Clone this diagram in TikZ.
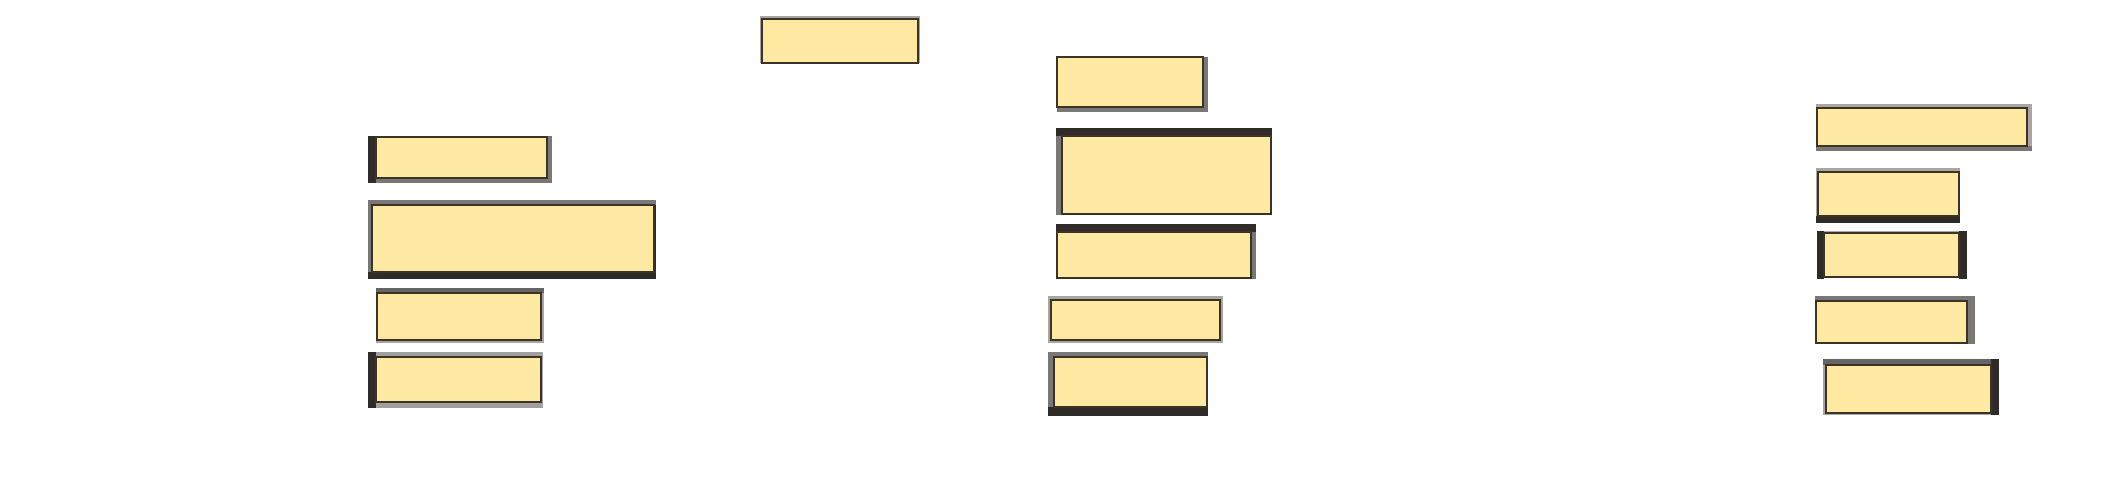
\documentclass[tikz,border=0pt]{standalone}
\usetikzlibrary{fit}
\definecolor{boxfill}{HTML}{FEE9A2}
\definecolor{boxline}{HTML}{3A3326}
\definecolor{bdark}{HTML}{2E2B28}
\definecolor{bmid}{HTML}{7A7876}
\definecolor{bmidd}{HTML}{666462}
\definecolor{blight}{HTML}{A9A6A3}
\tikzset{
  ybox/.style={draw=boxline, fill=boxfill, line width=1.3pt, inner sep=0pt, outer sep=0pt, rectangle},
}
\newcommand\ibox[5]{%
  \coordinate (#1-a) at (#2,#3);
  \coordinate (#1-b) at (#4,#5);
  \node[ybox, fit=(#1-a)(#1-b)] (#1) {};
}
\begin{document}
\begin{tikzpicture}[x=1pt,y=-1pt]
\useasboundingbox[fill=white] (0,0) rectangle (2118,488);
% B1
\fill[blight] (760,16) rectangle (920,19);
\fill[blight] (760,16) rectangle (762,63);
\fill[blight] (918,16) rectangle (920,63);
\ibox{b1}{762}{19}{918}{63}
% B2
\fill[bmid] (1203,57) rectangle (1208,112);
\fill[bmid] (1057,107) rectangle (1208,112);
\ibox{b2}{1057}{57}{1203}{107}
% B3
\fill[bmid] (547,136) rectangle (552,183);
\fill[bmid] (376,178) rectangle (552,183);
\fill[bdark] (368,136) rectangle (376,183);
\ibox{b3}{376}{137}{547}{178}
% B4
\fill[bmid] (368,200) rectangle (656,205);
\fill[bmid] (368,200) rectangle (372,279);
\fill[bdark] (368,272) rectangle (656,279);
\fill[bdark] (654,205) rectangle (656,279);
\ibox{b4}{372}{205}{654}{272}
% B5
\fill[blight] (541,288) rectangle (544,343);
\fill[blight] (376,340) rectangle (544,343);
\fill[blight] (376,293) rectangle (377,343);
\fill[bmidd] (376,288) rectangle (544,293);
\ibox{b5}{377}{293}{541}{340}
% B6
\fill[blight] (541,352) rectangle (543,408);
\fill[bmid!70!white] (376,352) rectangle (542,357);
\fill[bmid!70!white] (376,402) rectangle (542,408);
\fill[bdark] (368,352) rectangle (376,408);
\ibox{b6}{376}{357}{541}{402}
% B7
\fill[bmid] (1056,136) rectangle (1062,215);
\fill[bdark] (1056,128) rectangle (1272,136);
\ibox{b7}{1062}{136}{1271}{214}
% B8
\fill[bmid] (1251,224) rectangle (1256,279);
\fill[bdark] (1056,224) rectangle (1256,232);
\ibox{b8}{1057}{232}{1251}{278}
% B9
\fill[blight] (1048,296) rectangle (1223,343);
\ibox{b9}{1051}{300}{1220}{340}
% B10
\fill[bmid] (1048,352) rectangle (1208,357);
\fill[bmid] (1048,352) rectangle (1054,416);
\fill[bdark] (1048,407) rectangle (1208,416);
\ibox{b10}{1054}{357}{1207}{407}
% B11
\fill[blight] (1816,104) rectangle (2032,108);
\fill[blight] (2027,104) rectangle (2032,151);
\fill[bmid] (1816,146) rectangle (2032,151);
\ibox{b11}{1817}{108}{2027}{146}
% B12
\fill[blight] (1816,168) rectangle (1960,172);
\fill[blight] (1816,168) rectangle (1818,223);
\fill[bdark] (1816,216) rectangle (1960,223);
\ibox{b12}{1818}{172}{1959}{216}
% B13
\fill[blight] (1817,231) rectangle (1967,233);
\fill[bdark] (1817,231) rectangle (1824,279);
\fill[bdark] (1959,231) rectangle (1967,279);
\ibox{b13}{1824}{233}{1959}{277}
% B14
\fill[bmid] (1815,296) rectangle (1975,301);
\fill[bmid] (1967,296) rectangle (1975,344);
\ibox{b14}{1816}{301}{1967}{343}
% B15
\fill[blight] (1823,359) rectangle (1826,415);
\fill[blight] (1823,413) rectangle (1999,415);
\fill[bmidd] (1823,359) rectangle (1999,365);
\fill[bdark] (1991,359) rectangle (1999,415);
\ibox{b15}{1826}{365}{1991}{413}
\end{tikzpicture}
\end{document}
